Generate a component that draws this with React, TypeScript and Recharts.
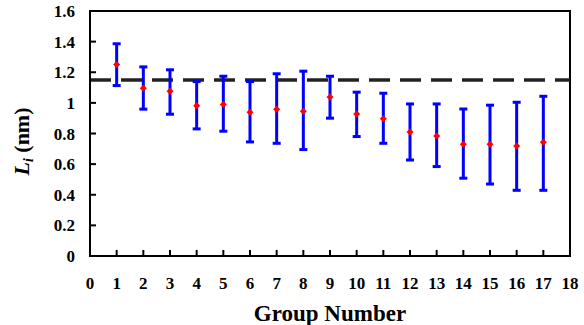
import { ComposedChart, Scatter, ErrorBar, XAxis, YAxis, ReferenceLine, ReferenceArea, Label } from 'recharts';

const FONT = 'Liberation Serif, Times New Roman, DejaVu Serif, serif';
const textStyle = { fontFamily: FONT, fontWeight: 700 };

const groups = [1, 2, 3, 4, 5, 6, 7, 8, 9, 10, 11, 12, 13, 14, 15, 16, 17];
const meanL = [1.25, 1.096, 1.076, 0.982, 0.989, 0.939, 0.959, 0.946, 1.039, 0.928, 0.897, 0.81, 0.784, 0.73, 0.73, 0.719, 0.743];
const upperL = [1.386, 1.235, 1.216, 1.139, 1.174, 1.139, 1.19, 1.207, 1.174, 1.07, 1.063, 0.993, 0.993, 0.96, 0.985, 1.004, 1.043];
const lowerL = [1.113, 0.959, 0.926, 0.83, 0.815, 0.745, 0.736, 0.695, 0.9, 0.78, 0.736, 0.627, 0.584, 0.508, 0.47, 0.429, 0.429];
const xTicks = [0, 1, 2, 3, 4, 5, 6, 7, 8, 9, 10, 11, 12, 13, 14, 15, 16, 17, 18];
const yTicks = [0, 0.2, 0.4, 0.6, 0.8, 1, 1.2, 1.4, 1.6];
const threshold = 1.15;

const data = groups.map((g, i) => ({
  group: g,
  L: meanL[i],
  err: [meanL[i] - lowerL[i], upperL[i] - meanL[i]],
}));

const YTick = ({ x, y, payload }: any) => (
  <g>
    <line x1={x} x2={x + 6} y1={y} y2={y} stroke="#000" strokeWidth={2} />
    <text x={x - 15} y={y} dy={6} textAnchor="end" style={{ ...textStyle, fontSize: 17 }} fill="#000">
      {payload.value}
    </text>
  </g>
);

const XTick = ({ x, y, payload }: any) => (
  <g>
    <line x1={x} x2={x} y1={y} y2={y - 6} stroke="#000" strokeWidth={2} />
    <text x={x} y={y} dy={33} textAnchor="middle" style={{ ...textStyle, fontSize: 17 }} fill="#000">
      {payload.value}
    </text>
  </g>
);

const Marker = ({ cx, cy }: any) => (
  <path d={`M${cx},${cy - 3.5} L${cx + 3.5},${cy} L${cx},${cy + 3.5} L${cx - 3.5},${cy} Z`} fill="#ff0000" />
);

const YTitle = ({ viewBox }: any) => {
  const cx = viewBox.x + 22;
  const cy = viewBox.y + viewBox.height / 2 + 8;
  return (
    <text x={cx} y={cy} transform={`rotate(-90 ${cx} ${cy})`} textAnchor="middle" style={{ ...textStyle, fontSize: 22 }} fill="#000" dy={7}>
      <tspan fontStyle="italic">L</tspan>
      <tspan fontStyle="italic" fontSize={14} dy={4}>i</tspan>
      <tspan dy={-4}> (nm)</tspan>
    </text>
  );
};

const XTitle = ({ viewBox }: any) => (
  <text x={viewBox.x + viewBox.width / 2} y={viewBox.y + viewBox.height - 4} textAnchor="middle" style={{ ...textStyle, fontSize: 23 }} fill="#000">
    Group Number
  </text>
);

export default function App() {
  return (
    <div style={{ position: 'absolute', left: 0, top: 0 }}>
      <ComposedChart width={584} height={325} data={data} margin={{ top: 11, right: 14, bottom: 0, left: 0 }}>
        <XAxis
          dataKey="group"
          type="number"
          domain={[0, 18]}
          ticks={xTicks}
          interval={0}
          height={69}
          tickSize={0}
          tickMargin={0}
          tick={<XTick />}
          axisLine={{ stroke: '#000', strokeWidth: 2 }}
        >
          <Label content={<XTitle />} />
        </XAxis>
        <YAxis
          type="number"
          domain={[0, 1.6]}
          ticks={yTicks}
          interval={0}
          width={90}
          tickSize={0}
          tickMargin={0}
          tick={<YTick />}
          axisLine={{ stroke: '#000', strokeWidth: 2 }}
        >
          <Label content={<YTitle />} />
        </YAxis>
        <ReferenceArea x1={0} x2={18} y1={0} y2={1.6} fill="none" stroke="#000" strokeWidth={2} />
        <ReferenceLine y={threshold} stroke="#222" strokeWidth={3.5} strokeDasharray="21 10" />
        <Scatter dataKey="L" shape={<Marker />} isAnimationActive={false}>
          <ErrorBar dataKey="err" direction="y" width={4} strokeWidth={3} stroke="#0000ff" isAnimationActive={false} />
        </Scatter>
      </ComposedChart>
    </div>
  );
}
